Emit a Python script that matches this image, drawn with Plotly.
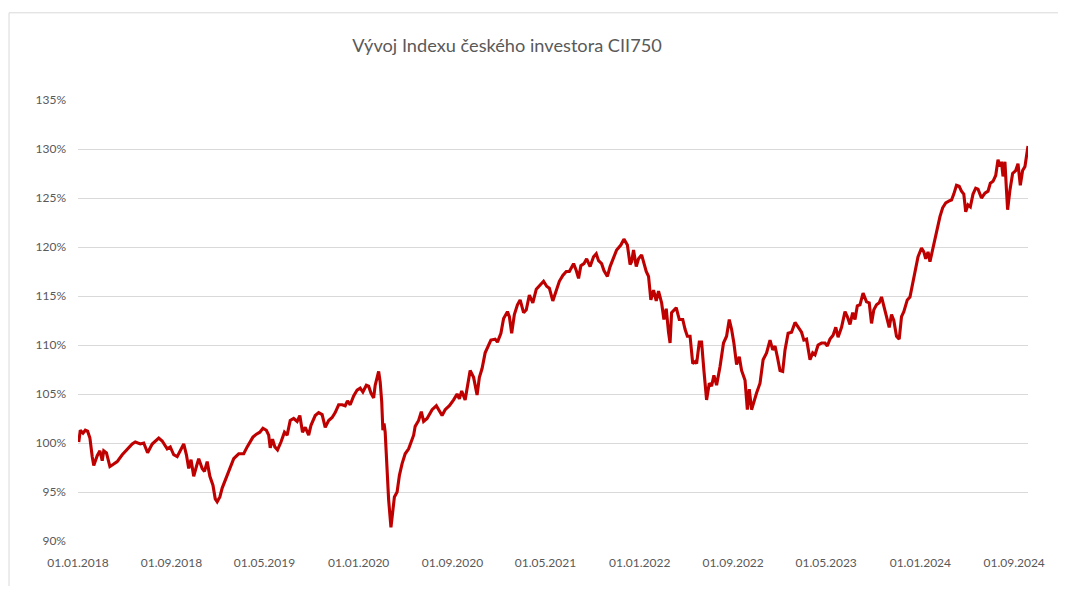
import plotly.graph_objects as go

# ---- data ----
dates_2018 = ["2018-01-03","2018-01-07","2018-01-14","2018-01-20","2018-01-26","2018-02-01","2018-02-07","2018-02-11",
              "2018-02-20","2018-02-27","2018-03-05","2018-03-09","2018-03-16","2018-03-25","2018-04-02","2018-04-13",
              "2018-04-26","2018-05-09","2018-05-22","2018-05-30","2018-06-12","2018-06-21","2018-07-01","2018-07-13",
              "2018-07-21","2018-07-30","2018-08-08","2018-08-21","2018-08-29","2018-09-07","2018-09-16","2018-09-24",
              "2018-10-03","2018-10-10","2018-10-16","2018-10-22","2018-10-29","2018-11-05","2018-11-11","2018-11-20",
              "2018-11-26","2018-12-03","2018-12-10","2018-12-18","2018-12-24","2018-12-29"]
values_2018 = [100.1,101.3,101.0,101.3,101.2,100.5,98.6,97.7,
               98.7,99.2,98.2,99.2,99.0,97.6,97.8,98.1,
               98.8,99.4,99.9,100.1,99.9,100.0,99.0,99.9,
               100.2,100.5,100.2,99.4,99.6,98.8,98.6,99.2,
               99.9,98.8,97.4,98.3,96.6,97.6,98.4,97.4,
               97.1,98.1,96.6,95.7,94.3,94.0]

dates_2019 = ["2019-01-05","2019-01-11","2019-01-19","2019-02-01","2019-02-10","2019-02-23","2019-03-08","2019-03-17",
              "2019-03-25","2019-04-01","2019-04-10","2019-04-19","2019-04-27","2019-05-06","2019-05-12","2019-05-16",
              "2019-05-22","2019-05-28","2019-06-04","2019-06-13","2019-06-22","2019-06-29","2019-07-07","2019-07-16",
              "2019-07-25","2019-08-01","2019-08-08","2019-08-15","2019-08-24","2019-08-30","2019-09-10","2019-09-19",
              "2019-09-28","2019-10-06","2019-10-15","2019-10-24","2019-11-01","2019-11-10","2019-11-19","2019-11-27",
              "2019-12-03","2019-12-10","2019-12-19","2019-12-28"]
values_2019 = [94.5,95.4,96.2,97.6,98.4,98.9,98.9,99.6,
               100.1,100.6,100.9,101.1,101.5,101.3,100.8,99.5,
               100.4,99.6,99.3,100.1,101.1,100.8,102.3,102.5,
               102.2,102.8,101.1,101.6,100.8,101.8,102.8,103.1,
               102.9,101.6,102.3,102.6,103.1,103.9,103.9,103.8,
               104.3,103.9,104.8,105.4]

dates_2020 = ["2020-01-05","2020-01-12","2020-01-21","2020-01-27","2020-02-02","2020-02-09","2020-02-13","2020-02-22",
              "2020-02-26","2020-03-01","2020-03-04","2020-03-07","2020-03-10","2020-03-14","2020-03-19","2020-03-25",
              "2020-03-30","2020-04-03","2020-04-10","2020-04-16","2020-04-23","2020-05-01","2020-05-10","2020-05-16",
              "2020-05-23","2020-05-27","2020-06-05","2020-06-12","2020-06-18","2020-06-27","2020-07-10","2020-07-21",
              "2020-07-29","2020-08-05","2020-08-13","2020-08-24","2020-09-04","2020-09-13","2020-09-19","2020-09-25",
              "2020-10-04","2020-10-10","2020-10-17","2020-10-26","2020-11-04","2020-11-10","2020-11-17","2020-11-25",
              "2020-12-01","2020-12-10","2020-12-21","2020-12-27"]
values_2020 = [105.6,105.2,105.9,105.8,105.1,104.6,105.9,107.3,
               106.2,104.2,101.3,102.0,101.1,97.6,94.2,91.4,
               93.5,94.5,95.0,96.7,97.9,98.9,99.4,100.1,
               100.8,101.7,102.3,103.2,102.2,102.5,103.4,103.8,
               103.2,102.8,103.4,103.8,104.4,105.0,104.5,105.3,
               104.4,105.7,107.4,106.7,104.9,106.7,107.6,109.2,
               109.8,110.5,110.6,110.3]

dates_2021 = ["2021-01-05","2021-01-12","2021-01-22","2021-01-27","2021-02-02","2021-02-09","2021-02-17","2021-02-24",
              "2021-03-05","2021-03-12","2021-03-20","2021-03-29","2021-04-07","2021-04-17","2021-04-26","2021-05-04",
              "2021-05-11","2021-05-20","2021-05-29","2021-06-06","2021-06-15","2021-06-24","2021-07-02","2021-07-13",
              "2021-07-20","2021-07-26","2021-08-01","2021-08-09","2021-08-16","2021-08-25","2021-09-03","2021-09-10",
              "2021-09-16","2021-09-24","2021-09-30","2021-10-09","2021-10-16","2021-10-25","2021-11-02","2021-11-13",
              "2021-11-21","2021-11-30","2021-12-07","2021-12-11","2021-12-16","2021-12-23","2021-12-29"]
values_2021 = [111.2,112.7,113.4,112.9,111.2,113.1,114.1,114.6,
               113.3,113.6,115.1,114.3,115.7,116.1,116.5,116.0,
               115.8,114.5,115.5,116.5,117.1,117.5,117.5,118.3,
               117.6,116.8,118.1,118.3,118.8,118.0,119.0,119.3,
               118.6,118.3,117.6,117.0,118.0,119.0,119.7,120.2,
               120.8,120.2,118.2,118.5,119.7,118.0,118.8]

dates_2022 = ["2022-01-06","2022-01-12","2022-01-18","2022-01-24","2022-01-30","2022-02-06","2022-02-13","2022-02-19",
              "2022-02-27","2022-03-05","2022-03-11","2022-03-17","2022-03-21","2022-03-25","2022-04-06","2022-04-14",
              "2022-04-23","2022-04-29","2022-05-05","2022-05-12","2022-05-19","2022-05-25","2022-05-29","2022-06-05",
              "2022-06-11","2022-06-17","2022-06-24","2022-07-01","2022-07-07","2022-07-13","2022-07-20","2022-07-29",
              "2022-08-07","2022-08-15","2022-08-22","2022-08-28","2022-09-03","2022-09-10","2022-09-17","2022-09-23",
              "2022-10-02","2022-10-08","2022-10-13","2022-10-19","2022-10-25","2022-11-01","2022-11-10","2022-11-18",
              "2022-11-27","2022-12-06","2022-12-13","2022-12-19","2022-12-25"]
values_2022 = [119.2,118.3,117.5,117.0,114.6,115.6,114.5,115.5,
               114.3,112.6,113.7,111.3,110.2,113.3,113.8,112.6,
               112.6,111.6,110.9,110.9,108.1,108.3,108.1,110.3,
               110.3,107.4,104.4,106.1,105.8,106.9,105.9,107.8,
               110.2,110.9,112.6,111.6,110.2,108.0,108.8,107.4,
               106.4,103.4,105.5,103.4,104.3,105.1,106.1,108.5,
               109.2,110.5,109.5,109.9,108.8]

dates_2023 = ["2023-01-01","2023-01-08","2023-01-14","2023-01-22","2023-01-31","2023-02-09","2023-02-17","2023-02-26",
              "2023-03-04","2023-03-11","2023-03-20","2023-03-27","2023-04-02","2023-04-10","2023-04-19","2023-04-28",
              "2023-05-04","2023-05-11","2023-05-19","2023-05-26","2023-06-01","2023-06-10","2023-06-19","2023-06-25",
              "2023-07-02","2023-07-09","2023-07-15","2023-07-21","2023-07-28","2023-08-05","2023-08-14","2023-08-21",
              "2023-08-27","2023-09-02","2023-09-09","2023-09-16","2023-09-22","2023-09-28","2023-10-05","2023-10-12",
              "2023-10-18","2023-10-24","2023-10-31","2023-11-07","2023-11-13","2023-11-19","2023-11-28","2023-12-05",
              "2023-12-12","2023-12-18","2023-12-26"]
values_2023 = [107.4,107.3,109.5,111.2,111.3,112.3,111.8,111.3,
               110.5,110.6,108.5,109.2,109.0,110.0,110.2,110.2,
               109.9,110.6,111.0,111.8,110.8,111.8,113.4,112.9,
               112.1,113.3,112.6,114.0,114.1,115.3,114.4,114.3,
               112.2,113.6,114.1,114.3,114.9,114.1,112.9,111.8,
               113.1,112.5,110.9,110.6,112.9,113.4,114.6,114.9,
               116.3,117.3,119.0]

dates_2024 = ["2024-01-04","2024-01-10","2024-01-15","2024-01-21","2024-01-26","2024-02-02","2024-02-08","2024-02-14",
              "2024-02-21","2024-02-28","2024-03-07","2024-03-16","2024-03-22","2024-03-28","2024-04-04","2024-04-11",
              "2024-04-17","2024-04-23","2024-04-28","2024-05-04","2024-05-10","2024-05-17","2024-05-24","2024-05-30",
              "2024-06-08","2024-06-17","2024-06-25","2024-07-01","2024-07-08","2024-07-15","2024-07-21","2024-07-26",
              "2024-07-30","2024-08-03","2024-08-08","2024-08-12","2024-08-15","2024-08-21","2024-08-28","2024-09-05",
              "2024-09-11","2024-09-17","2024-09-23","2024-09-29","2024-10-03","2024-10-07"]
values_2024 = [119.9,119.5,118.8,119.5,118.5,119.7,121.0,121.9,
               123.1,124.0,124.5,124.7,124.8,125.4,126.3,126.2,
               125.7,125.4,123.6,124.3,124.1,125.4,126.0,125.9,
               125.0,125.5,125.7,126.5,126.7,127.3,128.9,128.2,
               128.7,127.2,128.7,125.8,123.8,125.8,127.5,127.8,
               128.5,126.3,127.8,128.2,129.2,130.3]

tick_dates = ["2018-01-01","2018-09-01","2019-05-01","2020-01-01","2020-09-01","2021-05-01",
              "2022-01-01","2022-09-01","2023-05-01","2024-01-01","2024-09-01"]
tick_labels = ["01.01.2018","01.09.2018","01.05.2019","01.01.2020","01.09.2020","01.05.2021",
               "01.01.2022","01.09.2022","01.05.2023","01.01.2024","01.09.2024"]
y_ticks = [90, 95, 100, 105, 110, 115, 120, 125, 130, 135]

title_text = "Vývoj Indexu českého investora CII750"

dates = dates_2018 + dates_2019 + dates_2020 + dates_2021 + dates_2022 + dates_2023 + dates_2024
values = values_2018 + values_2019 + values_2020 + values_2021 + values_2022 + values_2023 + values_2024

# ---- figure ----
# the page adds an 8px body margin, so the figure is placed in figure coordinates
OFF = 8
W, H = 1050, 578
ml = 77.5 - OFF
mt = 99.7 - OFF
mr = W - (1028 - OFF)
mb = H - (540.7 - OFF)

fig = go.Figure()
fig.add_trace(go.Scatter(
    x=dates, y=values, mode="lines",
    line=dict(color="#BF0000", width=3.1),
    hoverinfo="skip", showlegend=False,
))

grey = "#595959"
fig.update_layout(
    width=W, height=H,
    margin=dict(l=ml, r=mr, t=mt, b=mb, pad=0),
    paper_bgcolor="white", plot_bgcolor="white",
    font=dict(family="Lato, 'Open Sans', sans-serif", color=grey, size=12),
    title=dict(text=title_text, x=(507 - OFF) / W, xanchor="center", xref="container",
               y=1 - (45.7 - OFF) / H, yanchor="middle", yref="container",
               font=dict(family="Lato, 'Open Sans', sans-serif", size=18.2, color=grey)),
    xaxis=dict(
        type="date", range=["2018-01-01", "2024-10-07"],
        tickmode="array", tickvals=tick_dates, ticktext=tick_labels,
        showgrid=False, zeroline=False, showline=False,
        ticks="", ticklabelstandoff=13,
        tickfont=dict(size=12, color=grey),
        fixedrange=True,
    ),
    yaxis=dict(
        range=[90, 135], tickmode="array", tickvals=y_ticks,
        ticktext=[f"{v}%" for v in y_ticks],
        showgrid=True, gridcolor="#D9D9D9", gridwidth=1,
        zeroline=False, showline=False, ticks="",
        ticklabelstandoff=11,
        tickfont=dict(size=12, color=grey),
        fixedrange=True,
    ),
)

# light frame of the chart object (top and left edges visible)
pw = W - ml - mr
ph = H - mt - mb
fx0 = (0.5 - ml) / pw
fx1 = (W + 20 - ml) / pw
fy1 = (H - mb - (12.5 - OFF)) / ph
fy0 = (H - mb - (H + 20)) / ph
fig.add_shape(type="rect", xref="paper", yref="paper",
              x0=fx0, x1=fx1, y0=fy0, y1=fy1,
              line=dict(color="#D9D9D9", width=1), fillcolor="rgba(0,0,0,0)", layer="below")

fig.write_html("out.html")
